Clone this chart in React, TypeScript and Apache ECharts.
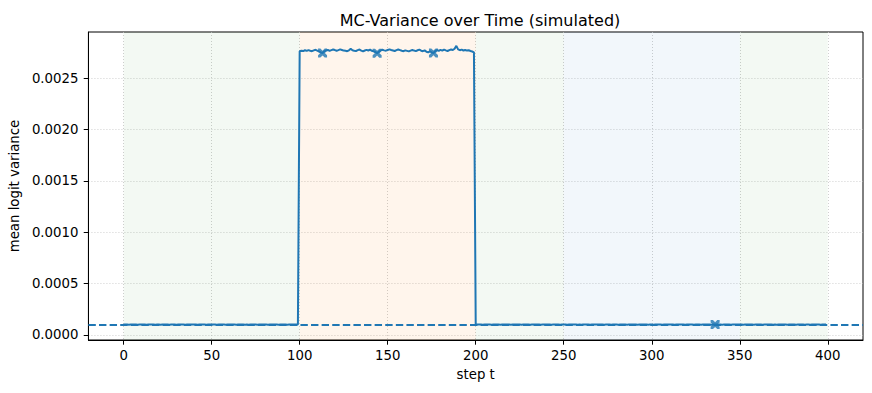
import React, { useEffect, useRef } from "react";
import * as echarts from "echarts";

// values in units of 1e-6
const lowA = [
  100, 101, 100, 99, 100, 100, 101, 100, 99, 100,
  101, 100, 100, 99, 100, 101, 100, 100, 99, 100,
  100, 99, 101, 100, 100, 100, 99, 101, 100, 100,
  99, 100, 100, 101, 100, 99, 100, 100, 101, 100,
  100, 101, 99, 100, 100, 100, 101, 99, 100, 100,
  101, 100, 100, 99, 101, 100, 100, 100, 99, 100,
  100, 100, 101, 100, 99, 100, 101, 100, 100, 99,
  100, 99, 100, 101, 100, 100, 99, 100, 101, 100,
  101, 100, 99, 100, 100, 101, 100, 100, 99, 100,
  100, 101, 100, 99, 100, 100, 100, 101, 100, 100,
];
const highB = [
  2762, 2768, 2764, 2772, 2766, 2774, 2768, 2763, 2771, 2777,
  2768, 2760, 2752, 2745, 2762, 2771, 2775, 2766, 2773, 2779,
  2774, 2768, 2774, 2781, 2775, 2769, 2767, 2763, 2772, 2786,
  2773, 2768, 2765, 2773, 2779, 2769, 2762, 2770, 2776, 2770,
  2778, 2767, 2761, 2755, 2744, 2758, 2771, 2777, 2771, 2768,
  2775, 2781, 2775, 2770, 2765, 2773, 2780, 2774, 2767, 2763,
  2771, 2766, 2761, 2769, 2775, 2769, 2764, 2772, 2778, 2768,
  2763, 2771, 2758, 2752, 2762, 2750, 2746, 2764, 2773, 2767,
  2776, 2769, 2779, 2771, 2765, 2774, 2780, 2775, 2787, 2815,
  2781, 2773, 2778, 2770, 2775, 2769, 2773, 2765, 2760, 2752,
];
const lowC = [
  100, 100, 101, 100, 99, 100, 100, 101, 100, 99,
  100, 101, 100, 100, 99, 100, 101, 100, 100, 100,
  99, 100, 100, 101, 100, 100, 99, 100, 101, 100,
  100, 99, 101, 100, 100, 100, 101, 99, 100, 100,
  101, 100, 100, 99, 100, 101, 100, 100, 99, 100,
  100, 100, 99, 101, 100, 100, 101, 100, 99, 100,
  99, 101, 100, 100, 100, 99, 100, 101, 100, 100,
  100, 100, 101, 99, 100, 100, 100, 99, 101, 100,
  101, 99, 100, 100, 101, 100, 99, 100, 100, 101,
  100, 100, 99, 100, 101, 100, 100, 101, 99, 100,
];
const lowD = [
  100, 99, 100, 101, 100, 100, 99, 100, 101, 100,
  100, 101, 100, 99, 100, 100, 101, 100, 100, 99,
  101, 100, 100, 100, 99, 101, 100, 100, 99, 100,
  100, 100, 101, 100, 99, 100, 100, 101, 100, 100,
  99, 100, 101, 100, 100, 99, 100, 100, 101, 100,
  100, 101, 99, 100, 100, 100, 101, 100, 99, 100,
  101, 100, 100, 99, 100, 101, 100, 100, 100, 99,
  100, 99, 100, 101, 100, 100, 101, 99, 100, 100,
  100, 100, 99, 100, 101, 100, 100, 99, 100, 101,
  99, 100, 100, 101, 100, 100, 99, 100, 100, 100,
];
const variance = [...lowA, ...highB, ...lowC, ...lowD];

const markerSteps = [113, 144, 176, 336];
const markerValues = [2745, 2744, 2746, 100];

const baselineValue = 0.0001;

const spans = [
  { from: 0, to: 100, color: "rgba(44,160,44,0.06)" },
  { from: 100, to: 200, color: "rgba(255,127,14,0.08)" },
  { from: 200, to: 250, color: "rgba(44,160,44,0.06)" },
  { from: 250, to: 350, color: "rgba(31,119,180,0.06)" },
  { from: 350, to: 400, color: "rgba(44,160,44,0.06)" },
];

const xTicks = [0, 50, 100, 150, 200, 250, 300, 350, 400];
const yTicks = [0, 0.0005, 0.001, 0.0015, 0.002, 0.0025];

const FONT = "DejaVu Sans";
const BLUE = "#1f77b4";
const X_PATH =
  "path://M0,0 L2.6,0 L5,2.4 L7.4,0 L10,0 L10,2.6 L7.6,5 L10,7.4 L10,10 L7.4,10 L5,7.6 L2.6,10 L0,10 L0,7.4 L2.4,5 L0,2.6 Z";

export default function App() {
  const ref = useRef<HTMLDivElement>(null);
  useEffect(() => {
    if (!ref.current) return;
    const chart = echarts.init(ref.current, undefined, { renderer: "svg" });
    const lineData = variance.map((v, i) => [i, v * 1e-6]);
    const markerData = markerSteps.map((s, i) => [s, markerValues[i] * 1e-6]);
    chart.setOption({
      animation: false,
      backgroundColor: "#ffffff",
      title: {
        text: "MC-Variance over Time (simulated)",
        left: 475,
        textAlign: "center",
        top: 7,
        textStyle: { fontFamily: FONT, fontSize: 16, fontWeight: "normal", color: "#000" },
      },
      grid: {
        left: 88,
        top: 32,
        right: 9,
        bottom: 53,
        show: true,
        borderColor: "#000",
        borderWidth: 1,
        backgroundColor: "transparent",
      },
      xAxis: {
        type: "value",
        min: -20,
        max: 420,
        name: "step t",
        nameLocation: "middle",
        nameGap: 28,
        nameTextStyle: { fontFamily: FONT, fontSize: 13.3, color: "#000" },
        axisLine: { show: true, onZero: false, lineStyle: { color: "#000", width: 1 } },
        axisTick: { show: true, length: 4.7, lineStyle: { color: "#000" }, customValues: xTicks },
        axisLabel: {
          customValues: xTicks,
          margin: 9,
          fontFamily: FONT,
          fontSize: 13.3,
          color: "#000",
        },
        splitLine: { show: true, lineStyle: { color: "#c4c4c4", type: [1, 2], width: 0.8 } },
      },
      yAxis: {
        type: "value",
        min: -0.00005,
        max: 0.00295,
        name: "mean logit variance",
        nameLocation: "middle",
        nameGap: 63,
        nameTextStyle: { fontFamily: FONT, fontSize: 13.3, color: "#000" },
        axisLine: { show: true, onZero: false, lineStyle: { color: "#000", width: 1 } },
        axisTick: { show: true, length: 4.7, lineStyle: { color: "#000" }, customValues: yTicks },
        axisLabel: {
          customValues: yTicks,
          margin: 10,
          fontFamily: FONT,
          fontSize: 13.3,
          color: "#000",
          formatter: (v: number) => v.toFixed(4),
        },
        splitLine: { show: true, lineStyle: { color: "#c4c4c4", type: [1, 2], width: 0.8 } },
      },
      series: [
        {
          type: "line",
          z: 1,
          data: [],
          silent: true,
          markArea: {
            silent: true,
            data: spans.map((s) => [
              { xAxis: s.from, itemStyle: { color: s.color } },
              { xAxis: s.to },
            ]),
          },
        },
        {
          type: "line",
          z: 3,
          data: lineData,
          showSymbol: false,
          symbol: "none",
          lineStyle: { color: BLUE, width: 2 },
          markLine: {
            silent: true,
            precision: 8,
            symbol: ["none", "none"],
            label: { show: false },
            lineStyle: { color: BLUE, width: 2, type: [7.4, 3.2] },
            data: [{ yAxis: baselineValue }],
          },
        },
        {
          type: "scatter",
          z: 4,
          data: markerData,
          symbol: X_PATH,
          symbolSize: 9,
          itemStyle: { color: BLUE },
        },
      ],
    });
    return () => chart.dispose();
  }, []);
  return (
    <div
      ref={ref}
      style={{ position: "fixed", left: 0, top: 0, width: 872, height: 393, background: "#fff" }}
    />
  );
}
